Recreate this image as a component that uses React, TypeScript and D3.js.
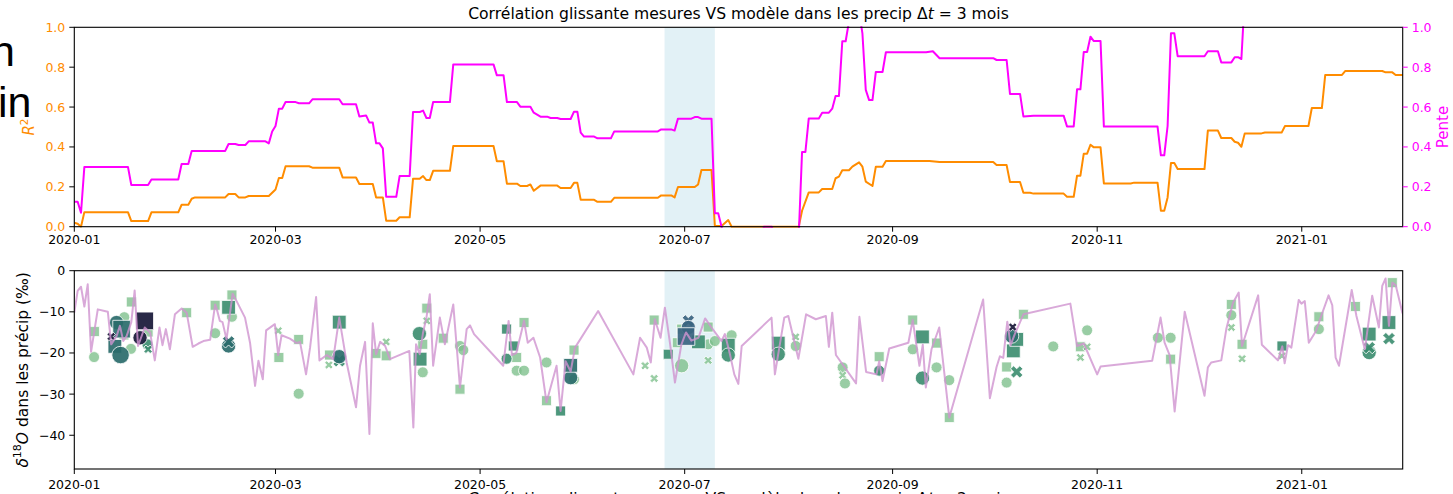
import { useEffect, useRef } from "react";
import * as d3 from "d3";

// ---------------------------------------------------------------------------
// Data (day offset from 2020-01-01, value)
// ---------------------------------------------------------------------------

const r2Series: [number, number][] = [
  [0, 0.02], [1, 0.015], [2, 0.0], [3, 0.073], [16, 0.073], [17, 0.028], [22, 0.028],
  [23, 0.072], [31, 0.072], [32, 0.11], [34, 0.11], [35, 0.14], [36, 0.147], [45, 0.147],
  [46, 0.164], [48, 0.164], [49, 0.147], [51, 0.147], [52, 0.154], [58, 0.154], [60, 0.187],
  [61, 0.244], [62, 0.244], [63, 0.303], [70, 0.303], [71, 0.296], [79, 0.296], [80, 0.247],
  [84, 0.247], [85, 0.214], [89, 0.214], [90, 0.147], [92, 0.147], [93, 0.03], [96, 0.03],
  [97, 0.047], [100, 0.047], [101, 0.24], [103, 0.24], [104, 0.254], [105, 0.234], [106, 0.234],
  [107, 0.28], [112, 0.28], [113, 0.405], [125, 0.405], [126, 0.328], [128, 0.328], [129, 0.216],
  [132, 0.216], [133, 0.204], [135, 0.204], [136, 0.212], [137, 0.18], [139, 0.206], [144, 0.206],
  [145, 0.194], [148, 0.194], [149, 0.22], [150, 0.22], [151, 0.135], [155, 0.135], [156, 0.125],
  [160, 0.125], [161, 0.145], [174, 0.145], [175, 0.157], [178, 0.157], [179, 0.147], [180, 0.199],
  [185, 0.199], [186, 0.212], [187, 0.284], [190, 0.284], [191, 0.005], [193, 0.003], [195, 0.033],
  [196, 0.0], [216, 0.0], [217, 0.08], [219, 0.172], [222, 0.172], [223, 0.189], [226, 0.189],
  [227, 0.243], [228, 0.251], [229, 0.283], [231, 0.283], [232, 0.301], [234, 0.323], [235, 0.301],
  [236, 0.226], [238, 0.204], [239, 0.301], [241, 0.301], [242, 0.33], [255, 0.33], [258, 0.324],
  [274, 0.324], [275, 0.309], [278, 0.309], [279, 0.224], [282, 0.224], [283, 0.17], [285, 0.17],
  [286, 0.166], [295, 0.166], [296, 0.15], [298, 0.15], [299, 0.256], [300, 0.256], [301, 0.366],
  [302, 0.366], [303, 0.411], [304, 0.398], [306, 0.398], [307, 0.217], [315, 0.217], [316, 0.221],
  [323, 0.221], [324, 0.08], [325, 0.08], [326, 0.147], [327, 0.319], [328, 0.319], [329, 0.289],
  [337, 0.289], [338, 0.482], [341, 0.482], [342, 0.445], [345, 0.445], [346, 0.426], [347, 0.421],
  [348, 0.401], [349, 0.468], [354, 0.468], [355, 0.472], [360, 0.472], [361, 0.505], [368, 0.505],
  [369, 0.595], [372, 0.595], [373, 0.761], [378, 0.761], [379, 0.781], [390, 0.781], [391, 0.774],
  [393, 0.774], [394, 0.761], [397, 0.761],
];

const slopeSeries: [number, number][] = [
  [0, 0.125], [1, 0.125], [2, 0.07], [3, 0.3], [16, 0.3], [17, 0.209], [22, 0.209], [23, 0.237],
  [31, 0.237], [32, 0.314], [34, 0.314], [35, 0.38], [45, 0.38], [46, 0.415], [48, 0.415],
  [49, 0.41], [51, 0.41], [52, 0.428], [57, 0.428], [58, 0.418], [59, 0.477], [60, 0.505],
  [61, 0.592], [62, 0.592], [63, 0.625], [66, 0.625], [67, 0.619], [70, 0.619], [71, 0.639],
  [79, 0.639], [80, 0.614], [84, 0.614], [85, 0.553], [87, 0.558], [88, 0.522], [89, 0.522],
  [90, 0.418], [91, 0.418], [92, 0.393], [93, 0.15], [96, 0.15], [97, 0.254], [100, 0.254],
  [101, 0.575], [103, 0.575], [104, 0.582], [105, 0.545], [106, 0.545], [107, 0.625], [112, 0.625],
  [113, 0.814], [125, 0.814], [126, 0.759], [128, 0.759], [129, 0.625], [132, 0.625], [133, 0.602],
  [136, 0.602], [137, 0.572], [139, 0.552], [141, 0.552], [142, 0.545], [144, 0.545], [145, 0.54],
  [148, 0.54], [149, 0.577], [150, 0.577], [151, 0.472], [152, 0.452], [155, 0.452], [156, 0.443],
  [160, 0.443], [161, 0.478], [174, 0.478], [175, 0.488], [178, 0.488], [179, 0.482], [180, 0.542],
  [184, 0.542], [185, 0.55], [186, 0.55], [187, 0.542], [190, 0.542], [191, 0.067], [192, 0.067],
  [193, 0.0], [194, -0.1], [205, -0.1], [205.6, 0.0], [208, 0.0], [208.6, -0.1], [215, -0.1],
  [216, -0.05], [217, 0.375], [218, 0.375], [219, 0.543], [222, 0.543], [223, 0.572], [225, 0.572],
  [226, 0.592], [227, 0.656], [228, 0.656], [229, 0.93], [230, 0.93], [231.5, 1.08], [234, 1.08],
  [235, 0.97], [236, 0.686], [237, 0.635], [238, 0.635], [239, 0.776], [241, 0.776], [242, 0.875],
  [254, 0.875], [256, 0.88], [258, 0.845], [274, 0.845], [275, 0.836], [278, 0.836], [279, 0.666],
  [282, 0.666], [283, 0.553], [286, 0.557], [295, 0.557], [296, 0.503], [298, 0.503], [299, 0.689],
  [300, 0.689], [301, 0.876], [302, 0.876], [303, 0.953], [304, 0.931], [306, 0.931], [307, 0.502],
  [323, 0.502], [324, 0.358], [325, 0.358], [326, 0.505], [327, 0.97], [328, 0.97], [329, 0.855],
  [337, 0.855], [338, 0.88], [341, 0.88], [342, 0.824], [345, 0.824], [346, 0.85], [347, 0.85],
  [348, 0.841], [349, 1.15], [397, 1.2],
];

// modelled d18O in precipitation
const modelSeries: [number, number][] = [
  [0, -10.2], [1, -4.9], [2, -3.9], [3, -8.7], [4, -3.3], [5, -19.7], [7, -9.4], [9, -9.8],
  [10, -10.0], [11, -17.9], [12.6, -15.9], [13.6, -13.4], [14.6, -17.1], [15.6, -15.9], [17, -12.5],
  [18, -4.8], [19, -18.3], [21, -13.8], [22.6, -15.0], [24, -21.8], [25.4, -13.8], [26.3, -18.1],
  [27.3, -14.2], [28.5, -19.1], [30, -10.6], [32, -9.2], [33.5, -10.2], [35.3, -18.5], [37, -17.7],
  [38.5, -17.1], [40.5, -16.8], [42, -8.2], [42.5, -9.4], [43.4, -12.2], [44.2, -12.5], [45.4, -16.7],
  [47.2, -5.6], [48.4, -7.4], [50.9, -11.4], [52.4, -17.5], [53.9, -28.0], [54.9, -21.9], [56.2, -26.4],
  [57.2, -14.5], [59.8, -13.0], [60.8, -20.5], [61.8, -15.7], [64.3, -16.5], [66.3, -17.6], [67.3, -17.3],
  [69.1, -25.2], [70.3, -18.7], [72.1, -6.4], [73.1, -21.8], [75.3, -20.5], [77.2, -21.5], [79, -11.4],
  [81.2, -22.3], [84, -33.2], [85.2, -23.1], [86.7, -17.3], [88, -39.7], [89, -12.8], [90, -20.3],
  [91.2, -17.3], [92.7, -18.3], [94.1, -21.5], [99.9, -19.5], [101.1, -38.1], [101.9, -17.9],
  [103, -20.3], [104, -15.0], [105, -11.4], [106, -5.7], [107, -23.1], [109, -11.4], [110.5, -17.9],
  [113, -8.2], [115, -28.4], [117, -14.2], [118, -13.3], [119.2, -15.4], [127.9, -23.1], [129.5, -12.2],
  [130.5, -20.5], [131.8, -20.0], [134.1, -12.2], [135.2, -17.5], [136.9, -16.3], [138.9, -21.1],
  [140.8, -32.0], [143.8, -23.1], [145, -34.1], [146.5, -22.0], [148, -24.5], [149.3, -18.7],
  [156.2, -9.8], [166.7, -25.2], [168.7, -16.3], [170.7, -18.7], [171.9, -22.3], [173.1, -11.8],
  [174.8, -16.3], [176.1, -9.0], [177.6, -17.5], [179.1, -27.2], [181, -18.0], [182.4, -15.0],
  [184, -17.0], [186.1, -16.3], [188.1, -11.6], [190, -13.8], [193, -17.1], [194, -15.4],
  [195.5, -20.3], [196.8, -25.2], [198, -27.5], [199, -18.3], [207.9, -11.4], [208.9, -25.2],
  [211.7, -11.4], [212.9, -11.0], [215.9, -21.4], [218.2, -10.6], [221.1, -11.8], [224.1, -11.0],
  [225, -18.5], [226, -10.2], [227.1, -20.5], [233.1, -27.4], [234.1, -11.2], [236.1, -24.6],
  [239.2, -25.2], [240, -22.0], [241, -26.8], [243, -18.9], [248.7, -17.5], [250, -12.0], [252, -23.1],
  [253, -18.0], [253.9, -28.4], [255.6, -19.1], [257.9, -13.8], [260.9, -35.7], [271, -7.0],
  [273, -31.0], [275, -23.4], [276, -20.8], [277, -21.2], [278.2, -12.4], [279.2, -18.1],
  [280.4, -15.5], [283, -10.6], [297, -8.0], [299, -18.3], [301, -17.7], [305, -25.2], [306, -23.3],
  [321.4, -21.9], [323.9, -11.4], [325.1, -17.5], [326.6, -20.5], [328.1, -34.2], [331.1, -10.0],
  [337, -30.4], [338, -23.5], [339, -22.3], [342, -21.8], [343.5, -14.2], [345.5, -7.8], [347.2, -5.3],
  [348.2, -18.3], [353, -6.0], [354.1, -18.0], [358.9, -21.8], [360.2, -18.4], [360.9, -22.5],
  [361.9, -18.1], [362.9, -18.7], [365.1, -7.1], [365.9, -8.0], [366.9, -7.4], [368.1, -17.5],
  [370.3, -14.6], [371.8, -11.0], [374, -6.0], [375.1, -8.4], [376.1, -21.1], [377.1, -23.1],
  [380.9, -4.7], [382.3, -11.0], [384.8, -19.1], [387, -6.1], [389, -13.8], [390, -3.7], [391, -1.9],
  [392, -13.4], [393, -2.9], [394, -3.5], [396, -10.2], [397, -12.0],
];

// measured d18O: day, value, station marker, hue class, size class
type Obs = [number, number, "o" | "s" | "x", number, number];
const observations: Obs[] = [
  [6, -14.8, "s", 0, 1], [5.9, -21.0, "o", 0, 1], [12.1, -18.4, "s", 2, 2], [12.6, -12.6, "o", 2, 2],
  [13.8, -20.5, "o", 2, 3], [14.1, -14.2, "s", 2, 3], [14.9, -11.3, "o", 0, 1], [14.8, -15.6, "s", 0, 1],
  [16.9, -19.0, "o", 0, 1], [17.0, -7.6, "s", 0, 1], [11, -16, "x", 4, 1], [19.6, -16.3, "o", 4, 2],
  [21.0, -12.2, "s", 4, 3], [22.0, -14.9, "s", 0, 1], [21.8, -17.9, "o", 1, 1], [22.0, -19.1, "x", 1, 1],
  [33.5, -10.2, "s", 0, 1], [42.0, -8.4, "s", 0, 1], [42.0, -15.2, "o", 0, 1], [46.0, -18.3, "o", 2, 2],
  [46.0, -17.3, "x", 2, 2], [46.0, -8.9, "s", 1, 2], [47.0, -5.9, "s", 0, 1], [47.0, -11.2, "o", 0, 1],
  [60.8, -14.6, "x", 0, 1], [61.0, -21.1, "s", 0, 1], [66.9, -16.7, "s", 0, 1], [66.9, -29.9, "o", 0, 1],
  [76.1, -20.5, "s", 0, 1], [75.9, -22.9, "x", 0, 1], [79.0, -12.5, "s", 1, 2], [79.0, -20.9, "o", 2, 2],
  [79.0, -21.9, "x", 1, 2], [90.0, -20.1, "s", 0, 1], [93.0, -20.7, "s", 0, 1], [93.0, -17.3, "x", 0, 1],
  [102.9, -15.3, "o", 1, 2], [103.1, -21.5, "s", 1, 2], [103.9, -17.9, "s", 0, 1], [103.9, -24.7, "o", 0, 1],
  [105.1, -9.1, "s", 0, 1], [105.1, -12.2, "x", 0, 1], [110.0, -16.4, "s", 0, 1], [115.0, -18.3, "o", 0, 1],
  [116.0, -19.3, "o", 0, 1], [115.0, -28.8, "s", 0, 1], [128.9, -21.4, "o", 1, 1], [128.9, -14.2, "s", 1, 1],
  [130.9, -18.3, "s", 1, 1], [131.9, -21.1, "s", 0, 1], [134.1, -12.6, "s", 0, 1], [131.9, -24.3, "o", 0, 1],
  [134.1, -24.3, "o", 0, 1], [140.8, -22.3, "o", 0, 1], [140.8, -31.6, "s", 0, 1], [145.0, -34.1, "s", 1, 1],
  [148.0, -26.0, "o", 2, 2], [148.0, -23.0, "s", 2, 2], [149.0, -19.3, "s", 0, 1], [149.0, -26.4, "o", 0, 1],
  [170.2, -23.1, "x", 0, 1], [172.9, -26.2, "x", 0, 1], [172.9, -12.0, "s", 0, 1], [177.1, -20.3, "s", 1, 1],
  [179.8, -17.5, "s", 0, 1], [181.1, -14.2, "s", 0, 1], [181.1, -23.1, "o", 0, 2], [183.1, -12.2, "x", 3, 2],
  [183.1, -13.8, "o", 3, 2], [182.4, -16.0, "s", 3, 3], [186.1, -17.3, "s", 1, 2], [189.0, -13.7, "s", 0, 1],
  [189.0, -17.9, "o", 0, 1], [189.0, -21.8, "x", 0, 1], [191.0, -17.1, "o", 0, 1], [195.0, -18.1, "s", 1, 2],
  [195.0, -20.5, "o", 1, 2], [196.0, -15.7, "o", 0, 1], [209.9, -17.6, "s", 1, 2], [209.9, -20.3, "o", 1, 2],
  [215.1, -16.1, "x", 0, 1], [215.1, -18.3, "o", 0, 1], [229.1, -23.5, "o", 0, 1], [229.1, -25.4, "x", 0, 1],
  [229.8, -27.4, "o", 0, 1], [240.0, -20.9, "s", 0, 1], [240.0, -24.3, "o", 1, 1], [250.0, -12.0, "s", 0, 1],
  [250.0, -19.1, "o", 0, 1], [252.9, -16.1, "s", 1, 2], [252.9, -26.1, "o", 1, 2], [257.1, -17.6, "s", 0, 1],
  [257.1, -23.5, "o", 0, 1], [260.9, -26.6, "o", 0, 1], [260.9, -35.7, "s", 0, 1], [278.0, -23.4, "s", 0, 1],
  [278.0, -27.2, "o", 0, 1], [279.5, -15.9, "o", 2, 2], [279.8, -13.7, "x", 4, 1], [280.0, -19.5, "s", 1, 2],
  [281.0, -16.7, "s", 1, 2], [281.0, -24.6, "x", 1, 2], [283.0, -10.6, "s", 0, 1], [291.9, -18.4, "o", 0, 1],
  [300.0, -18.5, "s", 0, 1], [300.0, -21.1, "x", 0, 1], [302.0, -14.5, "o", 0, 1], [302.0, -18.5, "x", 0, 1],
  [323.1, -16.3, "o", 0, 1], [326.9, -16.3, "o", 0, 1], [326.9, -21.5, "s", 0, 1], [345.0, -8.2, "s", 0, 1],
  [345.0, -10.8, "o", 0, 1], [345.0, -13.8, "x", 0, 1], [348.2, -17.9, "s", 0, 1], [348.2, -21.4, "x", 0, 1],
  [360.1, -18.3, "s", 1, 1], [360.1, -20.7, "x", 0, 1], [371.1, -11.2, "s", 0, 1], [371.1, -14.2, "o", 0, 1],
  [382.0, -8.7, "s", 0, 1], [386.1, -19.9, "o", 1, 2], [386.1, -15.4, "s", 1, 2], [386.1, -18.7, "x", 1, 2],
  [392.0, -12.6, "s", 1, 2], [392.0, -16.5, "x", 1, 2], [393.0, -2.9, "s", 0, 1],
];

const shadeSpan = [176, 191]; // 2020-06-25 .. 2020-07-10
const dayExtent = [0, 396.1];
const r2Ticks = [0, 0.2, 0.4, 0.6, 0.8, 1.0];
const d18Ticks = [0, -10, -20, -30, -40];
const d18Domain = [-48.2, 0];

const TITLE_START = "Corrélation glissante mesures VS modèle dans les precip ";

// ---------------------------------------------------------------------------

const HUE = ["#7cbf8a", "#3a8c6e", "#2a6b6b", "#3a6480", "#1d1d3d"];
const HUE_OPACITY = [0.78, 0.9, 0.92, 0.92, 0.95];
const AREA: Record<string, number[]> = {
  s: [0, 100, 190, 310],
  o: [0, 95, 160, 240],
  x: [0, 45, 95, 140],
};
const FONT = "DejaVu Sans";
const ORANGE = "#ff8c00";
const MAGENTA = "#ff00ff";

const t0 = Date.UTC(2020, 0, 1);
const toDate = (d: number) => new Date(t0 + d * 86400000);

export default function App() {
  const svgRef = useRef<SVGSVGElement>(null);

  useEffect(() => {
    const svg = d3.select(svgRef.current);
    svg.selectAll("*").remove();

    const left = 74.3;
    const right = 1402.7;
    const top1 = 27.3;
    const bot1 = 226.7;
    const top2 = 270.7;
    const bot2 = 469;

    const x = d3.scaleUtc().domain(dayExtent.map(toDate)).range([left, right]);
    const yR = d3.scaleLinear().domain([0, 1]).range([bot1, top1]);
    const yD = d3.scaleLinear().domain(d18Domain).range([bot2, top2]);
    const monthTicks = x.ticks(d3.utcMonth.every(2)!);
    const fmt = d3.utcFormat("%Y-%m");

    const defs = svg.append("defs");
    defs.append("clipPath").attr("id", "clipTop")
      .append("rect").attr("x", left).attr("y", top1 - 1).attr("width", right - left).attr("height", bot1 - top1 + 2);
    defs.append("clipPath").attr("id", "clipBot")
      .append("rect").attr("x", left).attr("y", top2).attr("width", right - left).attr("height", bot2 - top2);

    // cut-off text from neighbouring figure on the left
    svg.append("text").attr("x", -9).attr("y", 66)
      .attr("font-family", "Liberation Sans").attr("font-size", 43).attr("fill", "#000").text("n");
    svg.append("text").attr("x", -2).attr("y", 117)
      .attr("font-family", "Liberation Sans").attr("font-size", 43).attr("fill", "#000").text("in");

    const title = (y: number) => {
      const t = svg.append("text").attr("x", (left + right) / 2).attr("y", y)
        .attr("text-anchor", "middle").attr("font-family", FONT).attr("font-size", 15.6).attr("fill", "#000");
      t.append("tspan").text(TITLE_START);
      t.append("tspan").text("Δ");
      t.append("tspan").attr("font-style", "italic").text("t");
      t.append("tspan").text(" = 3");
      t.append("tspan").text(" mois");
    };
    title(19);
    title(503.5);

    // ---- shaded window ----
    for (const [ya, yb] of [[top1, bot1], [top2, bot2]]) {
      svg.append("rect")
        .attr("x", x(toDate(shadeSpan[0])))
        .attr("y", ya)
        .attr("width", x(toDate(shadeSpan[1])) - x(toDate(shadeSpan[0])))
        .attr("height", yb - ya)
        .attr("fill", "#add8e6")
        .attr("opacity", 0.35);
    }

    // ---- top panel lines ----
    const lineR = d3.line<[number, number]>().x((d) => x(toDate(d[0]))).y((d) => yR(d[1]));
    const gTop = svg.append("g").attr("clip-path", "url(#clipTop)");
    gTop.append("path").attr("d", lineR(r2Series)).attr("fill", "none")
      .attr("stroke", ORANGE).attr("stroke-width", 2).attr("stroke-linejoin", "round");
    gTop.append("path").attr("d", lineR(slopeSeries)).attr("fill", "none")
      .attr("stroke", MAGENTA).attr("stroke-width", 2).attr("stroke-linejoin", "round");

    // ---- bottom panel ----
    const gBot = svg.append("g").attr("clip-path", "url(#clipBot)");
    const sorted = [...observations].sort((a, b) => a[3] - b[3]);
    const symbolType = (s: string) =>
      s === "o" ? d3.symbolCircle : s === "s" ? d3.symbolSquare : d3.symbolCross;
    gBot.selectAll("path.obs")
      .data(sorted)
      .join("path")
      .attr("class", "obs")
      .attr("d", (d) => d3.symbol().type(symbolType(d[2])).size(AREA[d[2]][d[4]])())
      .attr("transform", (d) =>
        `translate(${x(toDate(d[0]))},${yD(d[1])})${d[2] === "x" ? " rotate(45)" : ""}`)
      .attr("fill", (d) => HUE[d[3]])
      .attr("fill-opacity", (d) => HUE_OPACITY[d[3]])
      .attr("stroke", "#fff")
      .attr("stroke-width", 0.8);

    const lineD = d3.line<[number, number]>().x((d) => x(toDate(d[0]))).y((d) => yD(d[1]));
    gBot.append("path").attr("d", lineD(modelSeries)).attr("fill", "none")
      .attr("stroke", "#cf93cf").attr("stroke-opacity", 0.8).attr("stroke-width", 2)
      .attr("stroke-linejoin", "round");

    // ---- frames ----
    for (const [ya, yb] of [[top1, bot1], [top2, bot2]]) {
      svg.append("rect").attr("x", left).attr("y", ya).attr("width", right - left)
        .attr("height", yb - ya).attr("fill", "none").attr("stroke", "#000").attr("stroke-width", 1.1);
    }

    // ---- x axes ----
    for (const [yb, base] of [[bot1, 244], [bot2, 489]]) {
      monthTicks.forEach((t) => {
        const tx = x(t);
        svg.append("line").attr("x1", tx).attr("x2", tx).attr("y1", yb).attr("y2", yb + 5)
          .attr("stroke", "#000").attr("stroke-width", 1);
        svg.append("text").attr("x", tx).attr("y", base).attr("text-anchor", "middle")
          .attr("font-family", FONT).attr("font-size", 12.5).attr("fill", "#000").text(fmt(t));
      });
    }

    // ---- top y axes ----
    r2Ticks.forEach((v) => {
      const ty = yR(v);
      svg.append("line").attr("x1", left - 5).attr("x2", left).attr("y1", ty).attr("y2", ty)
        .attr("stroke", "#000");
      svg.append("text").attr("x", left - 9).attr("y", ty).attr("dy", "0.36em").attr("text-anchor", "end")
        .attr("font-family", FONT).attr("font-size", 12.5).attr("fill", ORANGE).text(v.toFixed(1));
      svg.append("line").attr("x1", right).attr("x2", right + 5).attr("y1", ty).attr("y2", ty)
        .attr("stroke", MAGENTA);
      svg.append("text").attr("x", right + 9).attr("y", ty).attr("dy", "0.36em").attr("text-anchor", "start")
        .attr("font-family", FONT).attr("font-size", 12.5).attr("fill", MAGENTA).text(v.toFixed(1));
    });

    const r2Label = svg.append("text")
      .attr("transform", `translate(34,${(top1 + bot1) / 2}) rotate(-90)`)
      .attr("text-anchor", "middle").attr("font-family", FONT).attr("font-size", 15).attr("fill", ORANGE);
    r2Label.append("tspan").attr("font-style", "italic").text("R");
    r2Label.append("tspan").attr("font-size", 10.5).attr("dy", "-0.55em").text("2");

    svg.append("text")
      .attr("transform", `translate(1448,${(top1 + bot1) / 2}) rotate(-90)`)
      .attr("text-anchor", "middle").attr("font-family", FONT).attr("font-size", 15).attr("fill", MAGENTA)
      .text("Pente");

    // ---- bottom y axis ----
    d18Ticks.forEach((v) => {
      const ty = yD(v);
      svg.append("line").attr("x1", left - 5).attr("x2", left).attr("y1", ty).attr("y2", ty)
        .attr("stroke", "#000");
      svg.append("text").attr("x", left - 9).attr("y", ty).attr("dy", "0.36em").attr("text-anchor", "end")
        .attr("font-family", FONT).attr("font-size", 12.5).attr("fill", "#000")
        .text(v < 0 ? `\u2212${Math.abs(v)}` : `${v}`);
    });

    const dLabel = svg.append("text")
      .attr("transform", `translate(28,${(top2 + bot2) / 2}) rotate(-90)`)
      .attr("text-anchor", "middle").attr("font-family", FONT).attr("font-size", 15.5).attr("fill", "#000");
    dLabel.append("tspan").attr("font-style", "italic").text("δ");
    dLabel.append("tspan").attr("font-size", 11).attr("dy", "-0.6em").text("18");
    dLabel.append("tspan").attr("font-style", "italic").attr("dy", "0.42em").text("O");
    dLabel.append("tspan").text(" dans les précip (‰)");
  }, []);

  return (
    <svg
      ref={svgRef}
      width={1453}
      height={494}
      style={{ position: "absolute", left: 0, top: 0, background: "#fff" }}
    />
  );
}
